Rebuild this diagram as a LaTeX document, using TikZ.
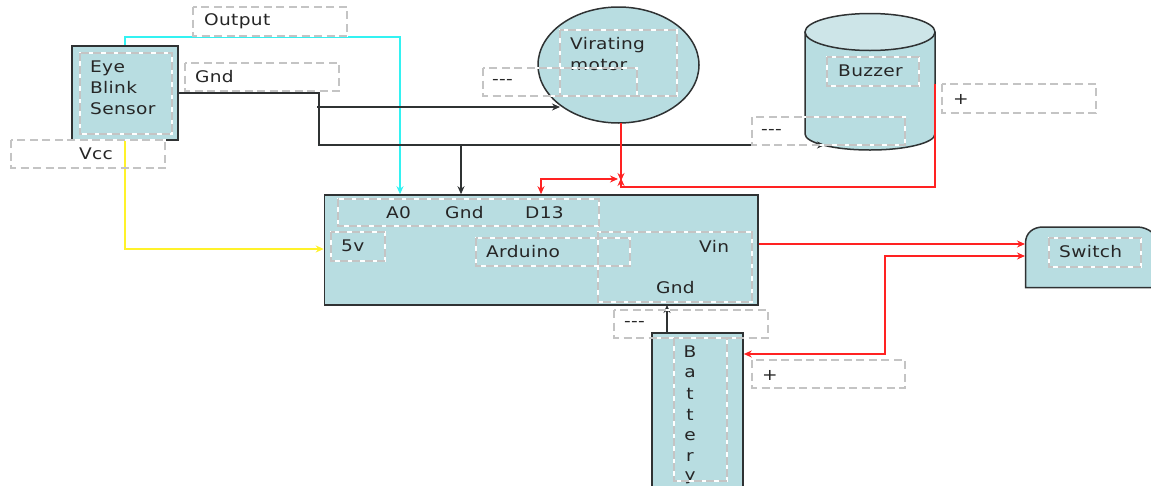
\documentclass[tikz,border=0pt]{standalone}
\usepackage{fontspec}
\setmainfont{DejaVu Sans}[FakeStretch=1.16,LetterSpace=2]
\usetikzlibrary{arrows.meta,shapes.geometric}
\definecolor{teal1}{HTML}{B8DDE1}
\definecolor{teal2}{HTML}{CDE5E8}
\definecolor{edge}{HTML}{2F3233}
\definecolor{dashg}{HTML}{C4C4C4}
\definecolor{wirered}{HTML}{FF2222}
\definecolor{wirecyan}{HTML}{33F2F2}
\definecolor{wireyellow}{HTML}{FFF22A}
\newcommand{\dbx}[4]{\draw[dbox] (#1,#2) rectangle (#3,#4);}
\tikzset{
  x=1pt,y=-1pt,
  block/.style={draw=edge,fill=teal1,line width=1.6pt,rectangle,inner sep=0pt},
  dbox/.style={draw=dashg,line width=1.3pt,dash pattern=on 8pt off 4.5pt,
     preaction={draw=white,line width=1.3pt,solid}},
  lab/.style={anchor=west,inner sep=0pt,font=\fontsize{16}{21}\selectfont,text=black!85,align=left},
  wire/.style={line width=1.1pt,-{Stealth[length=8pt,width=7pt]}},
  wireb/.style={line width=1.1pt,{Stealth[length=8pt,width=7pt]}-{Stealth[length=8pt,width=7pt]}},
}
\begin{document}
\begin{tikzpicture}
\path[use as bounding box] (0,0) rectangle (1151,485);
\clip (0,0) rectangle (1151,485);

% blocks
\node[block,minimum width=106pt,minimum height=94pt] (sensor) at (125,93) {};
\node[block,minimum width=433.5pt,minimum height=110pt] (arduino) at (541.25,250) {};
\node[block,minimum width=91pt,minimum height=160pt] (battery) at (697.5,413) {};
\node[ellipse,draw=edge,fill=teal1,line width=1.5pt,minimum width=161pt,minimum height=116pt,inner sep=0pt] (motor) at (618.5,65) {};

% buzzer
\draw[edge,fill=teal1,line width=1.5pt] (805,32) -- (805,134) arc[start angle=180,end angle=0,x radius=65,y radius=16] -- (935,32);
\draw[edge,fill=teal2,line width=1.5pt] (870,32) ellipse[x radius=65,y radius=18.5];
\coordinate (buzzerR) at (935,84);
\coordinate (buzzerIn) at (825,145);

% switch
\draw[edge,fill=teal1,line width=1.5pt] (1153,287.5) -- (1025.5,287.5) -- (1025.5,243)
   .. controls (1025.5,233) and (1033,227) .. (1043,227) -- (1137,227)
   .. controls (1143,227) and (1148,229) .. (1153,233);
\coordinate (switchA) at (1025,244);
\coordinate (switchB) at (1025,256);

% connectors
\coordinate (j1) at (319,93);
\coordinate (j2) at (319,145);
\coordinate (g1) at (317,107);
\coordinate (g2) at (461,145);
\coordinate (motorIn) at (560,107);
\coordinate (m1) at (621,181);
\coordinate (m2) at (621,187);
\coordinate (b2) at (935,187);
\coordinate (d1) at (618,179);
\coordinate (d2) at (541,179);
\coordinate (c1) at (125,37);
\coordinate (c2) at (400,37);
\coordinate (y1) at (125,249);
\coordinate (s1) at (885,256);
\coordinate (s2) at (885,354);

\draw[wire,wirecyan] (sensor.north) -- (c1) -- (c2) -- (c2 |- arduino.north);
\draw[wire,wireyellow] (sensor.south) -- (y1) -- (y1 -| arduino.west);
\draw[wire,edge] (sensor.east |- j1) -- (j1) -- (j2) -- (buzzerIn);
\draw[wire,edge] (g1) -- (motorIn);
\draw[wire,edge] (g2) -- (g2 |- arduino.north);
\draw[wire,wirered] (621,123) -- (m1);
\draw[wire,wirered] (buzzerR) -- (b2) -- (m2) -- (621,178);
\draw[wireb,wirered] (d1) -- (d2) -- (d2 |- arduino.north);
\draw[wire,wirered] (arduino.east |- switchA) -- (switchA);
\draw[wireb,wirered] (switchB) -- (s1) -- (s2) -- (s2 -| battery.east);
\draw[wire,edge] (667,333) -- (667,305);

% text
\node[lab] (t1) at (90,88) {Eye\\Blink\\Sensor};
\node[lab] (t2) at (204,21) {Output};
\node[lab] (t3) at (195,77) {Gnd};
\node[lab] (t4) at (79,154) {Vcc};
\node[lab] (t5) at (570,54) {Virating\\motor};
\node[lab] (t6) at (492,82) {-{}-{}-};
\node[lab] (t7) at (838,71) {Buzzer};
\node[lab] (t8) at (953,99) {+};
\node[lab] (t9) at (761,132) {-{}-{}-};
\node[lab] (t10) at (386,213) {A0};
\node[lab] (t11) at (445,213) {Gnd};
\node[lab] (t12) at (525,213) {D13};
\node[lab] (t13) at (341,246) {5v};
\node[lab] (t14) at (486,252) {Arduino};
\node[lab] (t15) at (699,246) {Vin};
\node[lab] (t16) at (656,288) {Gnd};
\node[lab] (t17) at (1059,252) {Switch};
\node[lab] (t18) at (624,324) {-{}-{}-};
\node[lab] (t19) at (762,375) {+};
\node[lab,anchor=center] (t20) at (690,352) {B};
\node[lab,anchor=center] (t21) at (690,373) {a};
\node[lab,anchor=center] (t22) at (690,394) {t};
\node[lab,anchor=center] (t23) at (690,415) {t};
\node[lab,anchor=center] (t24) at (690,436) {e};
\node[lab,anchor=center] (t25) at (690,457) {r};
\node[lab,anchor=center] (t26) at (690,478) {y};

% dashed text frames
\dbx{80}{53}{172}{134}
\dbx{193}{7}{347}{36}
\dbx{185}{63}{339}{91}
\dbx{11}{140}{165}{168}
\dbx{560}{30}{677}{96}
\dbx{483}{68}{637}{96}
\dbx{827}{57}{919}{86}
\dbx{942}{84}{1096}{113}
\dbx{752}{117}{905}{145}
\dbx{338}{199}{599}{226}
\dbx{331}{232}{385}{261}
\dbx{476}{238}{630}{266}
\dbx{598}{232}{752}{302}
\dbx{1049}{238}{1141}{267}
\dbx{614}{310}{768}{338}
\dbx{674}{338}{727}{481}
\dbx{752}{360}{905}{388}
\end{tikzpicture}
\end{document}
